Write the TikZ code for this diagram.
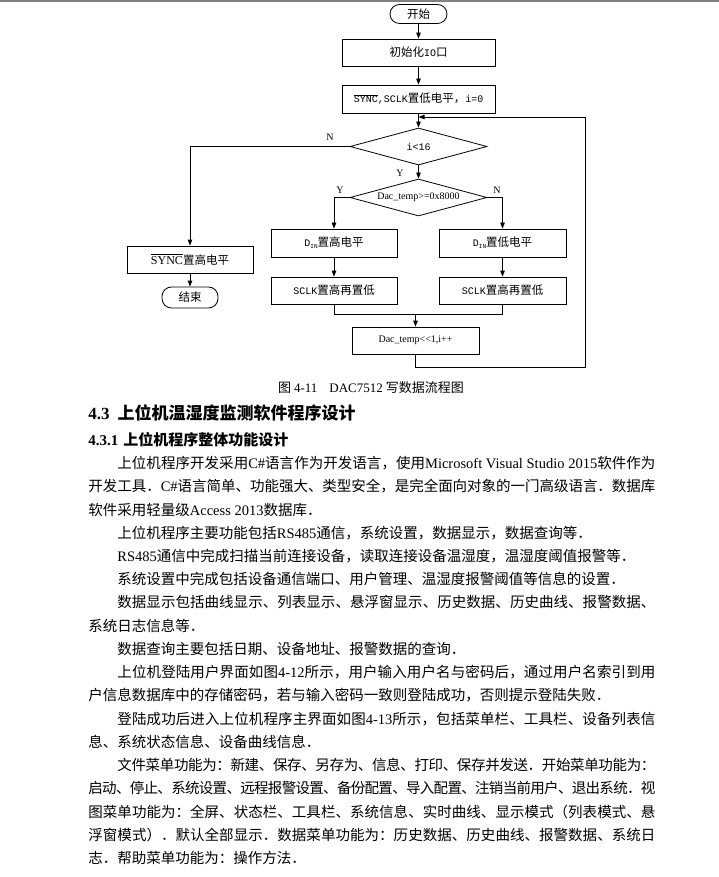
\documentclass[tikz,border=0pt]{standalone}
\usepackage{fontspec}
\setmainfont{Noto Sans CJK SC}
\newfontfamily\ltnf{Liberation Serif}
\newfontfamily\monof{Liberation Mono}
\usetikzlibrary{shapes.geometric,arrows.meta}
\newcount\cjkcnt
\cjkcnt="4E00
\loop
\XeTeXcharclass\cjkcnt=250
\ifnum\cjkcnt<"9FFF \advance\cjkcnt by 1 \repeat
\XeTeXcharclass"3001=250
\XeTeXcharclass"3002=250
\XeTeXcharclass"FF0C=250
\XeTeXcharclass"FF0E=250
\XeTeXcharclass"FF1A=250
\XeTeXcharclass"FF08=250
\XeTeXcharclass"FF09=250
\XeTeXinterchartoks 250 250 = {\hskip 0pt plus 1pt minus 1pt}
\newcommand\ltn[1]{{\ltnf #1}}
\newcommand\fcfs{\fontsize{11.5}{13}\selectfont}
\newcommand\lblfs{\fontsize{10}{12}\selectfont\ltnf}
\newcommand\bodyfs{\fontsize{14.5}{17}\selectfont}
\newcommand\jline[1]{\hbox to 567pt{\XeTeXinterchartokenstate=1 #1}}
\newcommand\indnt{\hskip 29pt}
\newcommand\monsz{\fontsize{10}{12}\selectfont\monof}
\begin{document}
\begin{tikzpicture}[x=1pt,y=-1pt,line width=0.8pt,
  arr/.style={-{Triangle[length=6pt,width=4.5pt]}},
  fbox/.style={draw, rectangle, inner sep=0pt, font=\fcfs},
  term/.style={draw, rectangle, rounded corners=9.5pt, inner sep=0pt, font=\fcfs},
  dia/.style={draw, diamond, inner sep=0pt, minimum width=137pt, minimum height=37pt, font=\fcfs},
  lbl/.style={inner sep=0pt, font=\lblfs},
  bodyline/.style={anchor=base west, inner sep=0pt, font=\bodyfs}]
\useasboundingbox (0,0) rectangle (719,877);
\draw[line width=2.5pt, gray] (0,1.2) -- (719,1.2);

% flowchart nodes
\node[term, minimum width=57pt, minimum height=19pt] (start) at (418.5,14) {开始};
\node[fbox, minimum width=153pt, minimum height=27pt] (init) at (418.5,52.5) {初始化{\monsz IO}口};
\node[fbox, minimum width=153pt, minimum height=28pt] (sync) at (418.5,99) {{\monsz$\overline{\hbox{SYNC}}$,SCLK}置低电平，{\monsz i=0}};
\node[dia] (d1) at (418.5,146.5) {\makebox[0pt]{\monsz i<16}};
\node[dia] (d2) at (418.5,197.5) {\makebox[0pt]{\lblfs Dac\_temp>=0x8000}};
\node[fbox, minimum width=126pt, minimum height=28pt] (hiL) at (334,243) {{\monsz D}\raisebox{-2pt}{\fontsize{6}{7}\selectfont\monof IN}置高电平};
\node[fbox, minimum width=127pt, minimum height=28pt] (loR) at (502.5,243) {{\monsz D}\raisebox{-2pt}{\fontsize{6}{7}\selectfont\monof IN}置低电平};
\node[fbox, minimum width=126pt, minimum height=27pt] (sclkL) at (334,290.5) {{\monsz SCLK}置高再置低};
\node[fbox, minimum width=127pt, minimum height=27pt] (sclkR) at (502.5,290.5) {{\monsz SCLK}置高再置低};
\node[fbox, minimum width=127pt, minimum height=27pt] (shift) at (415.5,340.5) {\lblfs Dac\_temp<{}<1,i++};
\node[fbox, minimum width=126pt, minimum height=27pt] (syncH) at (190,259.5) {{\fontsize{12}{14}\selectfont\ltnf$\overline{\hbox{SYNC}}$}置高电平};
\node[term, minimum width=56pt, minimum height=21pt] (end) at (190,297.5) {结束};

% labels
\node[lbl] (nA) at (330,137) {N};
\node[lbl] (yA) at (400,173) {Y};
\node[lbl] (yB) at (340,190) {Y};
\node[lbl] (nB) at (497,190) {N};

% coordinates
\coordinate (loopin) at (418.5,117);
\coordinate (lb) at (585,367);
\coordinate (lt) at (585,117);
\coordinate (jL) at (334,314);
\coordinate (jR) at (502.5,314);

% connectors
\draw[arr] (start) -- (init);
\draw[arr] (init) -- (sync);
\draw[arr] (sync) -- (d1);
\draw[arr] (d1) -- (d2);
\draw[arr] (d1.west) -| (syncH.north);
\draw[arr] (syncH) -- (end);
\draw[arr] (d2.west) -| (hiL.north);
\draw[arr] (d2.east) -| (loR.north);
\draw[arr] (hiL) -- (sclkL);
\draw[arr] (loR) -- (sclkR);
\draw (sclkL.south) -- (jL) -- (jR) -- (sclkR.south);
\draw[arr] (shift.north |- jL) -- (shift.north);
\draw[arr] (shift.south) |- (lb) -- (lt) -- (loopin);

% caption and headings
\node[inner sep=0pt] (cap) at (371,388) {\fontsize{13}{15}\selectfont 图 \ltn{4-11}\hskip 12pt\ltn{DAC7512} 写数据流程图};
\node[anchor=west, inner sep=0pt] (h1) at (88,413) {\fontsize{17}{20}\selectfont\bfseries\ltn{\bfseries 4.3}\hskip 8pt 上位机温湿度监测软件程序设计};
\node[anchor=west, inner sep=0pt] (h2) at (88,440) {\fontsize{15}{18}\selectfont\bfseries\ltn{\bfseries 4.3.1}\hskip 5pt 上位机程序整体功能设计};

% body text
\node[bodyline] (l1) at (88,468.5) {\jline{\indnt 上位机程序开发采用\ltn{C\#}语言作为开发语言，使用\ltn{Microsoft Visual Studio 2015}软件作为}};
\node[bodyline] (l2) at (88,491.7) {\jline{开发工具．\ltn{C\#}语言简单、功能强大、类型安全，是完全面向对象的一门高级语言．数据库}};
\node[bodyline] (l3) at (88,515.0) {软件采用轻量级\ltn{Access 2013}数据库．};
\node[bodyline] (l4) at (88,538.2) {\indnt 上位机程序主要功能包括\ltn{RS485}通信，系统设置，数据显示，数据查询等．};
\node[bodyline] (l5) at (88,561.5) {\indnt\ltn{RS485}通信中完成扫描当前连接设备，读取连接设备温湿度，温湿度阈值报警等．};
\node[bodyline] (l6) at (88,584.7) {\indnt 系统设置中完成包括设备通信端口、用户管理、温湿度报警阈值等信息的设置．};
\node[bodyline] (l7) at (88,607.9) {\jline{\indnt 数据显示包括曲线显示、列表显示、悬浮窗显示、历史数据、历史曲线、报警数据、}};
\node[bodyline] (l8) at (88,631.2) {系统日志信息等．};
\node[bodyline] (l9) at (88,654.4) {\indnt 数据查询主要包括日期、设备地址、报警数据的查询．};
\node[bodyline] (l10) at (88,677.7) {\jline{\indnt 上位机登陆用户界面如图\ltn{4-12}所示，用户输入用户名与密码后，通过用户名索引到用}};
\node[bodyline] (l11) at (88,700.9) {户信息数据库中的存储密码，若与输入密码一致则登陆成功，否则提示登陆失败．};
\node[bodyline] (l12) at (88,724.1) {\jline{\indnt 登陆成功后进入上位机程序主界面如图\ltn{4-13}所示，包括菜单栏、工具栏、设备列表信}};
\node[bodyline] (l13) at (88,747.4) {息、系统状态信息、设备曲线信息．};
\node[bodyline] (l14) at (88,770.6) {\jline{\indnt 文件菜单功能为：新建、保存、另存为、信息、打印、保存并发送．开始菜单功能为：}};
\node[bodyline] (l15) at (88,793.9) {\jline{启动、停止、系统设置、远程报警设置、备份配置、导入配置、注销当前用户、退出系统．视}};
\node[bodyline] (l16) at (88,817.1) {\jline{图菜单功能为：全屏、状态栏、工具栏、系统信息、实时曲线、显示模式（列表模式、悬}};
\node[bodyline] (l17) at (88,840.3) {\jline{浮窗模式）．默认全部显示．数据菜单功能为：历史数据、历史曲线、报警数据、系统日}};
\node[bodyline] (l18) at (88,863.6) {志．帮助菜单功能为：操作方法．};
\end{tikzpicture}
\end{document}
